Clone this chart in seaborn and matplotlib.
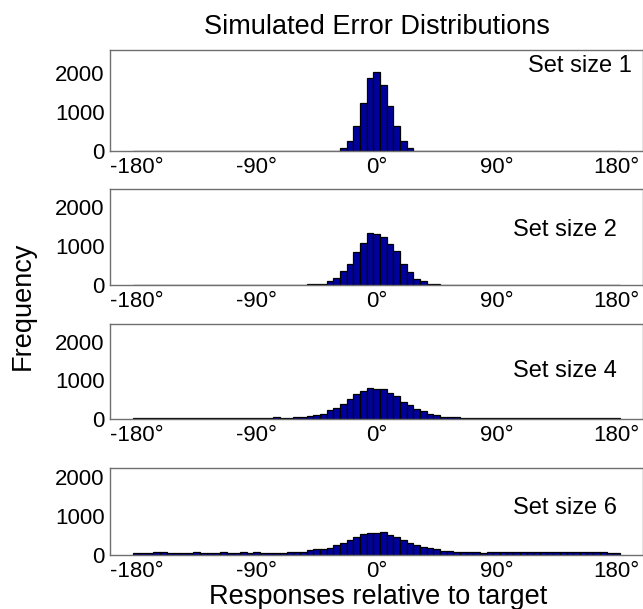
import numpy as np
import pandas as pd
import matplotlib
matplotlib.use("Agg")
import matplotlib.pyplot as plt
import seaborn as sns

# ---------------- data ----------------
centers = list(range(-180, 181, 5))          # 73 bin centres (degrees)
set_sizes = [1, 2, 4, 6]
tick_values = [-180, -90, 0, 90, 180]
tick_labels = ["-180°", "-90°", "0°", "90°", "180°"]
ytick_values = [0, 1000, 2000]
ytick_labels = ["0", "1000", "2000"]

counts_size1 = [0]*27 + [3, 4, 6, 12, 90, 245, 640, 1245, 1890, 2035, 1710, 1160,
                         640, 265, 90, 12, 4] + [0]*29

counts_size2 = ([8, 0, 6, 0, 10, 8, 0, 10, 6, 8, 10, 0, 8, 6, 10, 8, 0, 6, 10, 8, 0, 8, 6, 10, 12, 10, 14, 15]
                + [25, 90, 175, 360, 525, 835, 1080, 1325, 1300, 1235, 1050, 860,
                   525, 333, 160, 90, 25]
                + [14, 12, 10, 8, 10, 6, 0, 8, 10, 6, 0, 8, 10, 0, 6, 8, 10, 0, 8, 6, 0, 8, 10, 6, 0, 8, 6, 8])

counts_size4 = [20, 30, 25, 30, 35, 25, 30, 20, 25, 30, 28, 35, 25, 20, 30, 25, 35, 28, 22, 30, 17,
                43, 35, 17, 43, 43, 85, 100, 130, 220, 280, 385, 525, 636, 736, 810,
                785, 780, 662, 585, 438, 350, 255, 195, 130, 105, 60, 45, 45, 30, 30, 25,
                30, 28, 22, 30, 25, 35, 28, 20, 30, 25, 22, 30, 28, 35, 25, 20, 30, 28, 25, 30, 20]

counts_size6 = [43, 60, 60, 77, 77, 60, 60, 60, 60, 77, 60, 60, 60, 77, 60, 60, 77, 60, 77, 60, 43,
                60, 60, 77, 77, 86, 128, 162, 162, 180, 256, 316, 385, 453, 530, 556,
                556, 600, 515, 453, 385, 300, 256, 214, 171, 145, 111, 100, 86, 77, 77, 77,
                60, 77, 86, 86, 68, 68, 68, 86, 68, 86, 86, 68, 68, 68, 86, 86, 86, 86, 68, 60, 43]

all_counts = [counts_size1, counts_size2, counts_size4, counts_size6]
ymax = [2613, 2452, 2458, 2223]

# ---------------- style ----------------
sns.set_theme(style="white")
plt.rcParams['font.family'] = ['Liberation Sans', 'DejaVu Sans']

W, H = 643, 609
fig = plt.figure(figsize=(W/100, H/100), dpi=100)

left_px, right_px = 110, 643.3
panels_px = [(49.5, 151.0), (189.0, 285.0), (324.0, 419.0), (468.3, 555.0)]
label_px = [(528, 66), (513, 230), (513, 371), (513, 508)]

edges = [c - 2.5 for c in centers] + [centers[-1] + 2.5]
spine_col = "#6f6f6f"
bar_col = "#00009C"

for i, (top, bot) in enumerate(panels_px):
    ax = fig.add_axes([left_px/W, 1 - bot/H, (right_px-left_px)/W, (bot-top)/H])
    df = pd.DataFrame({"err": centers, "n": all_counts[i]})
    sns.histplot(data=df, x="err", weights="n", bins=edges, ax=ax,
                 color=bar_col, edgecolor="black", linewidth=0.9, alpha=1.0)
    ax.set_xlim(-200, 200)
    ax.set_ylim(0, ymax[i])
    ax.set_xticks(tick_values)
    ax.set_xticklabels(tick_labels)
    ax.set_yticks(ytick_values)
    ax.set_yticklabels(ytick_labels)
    ax.set_xlabel("")
    ax.set_ylabel("")
    for s in ax.spines.values():
        s.set_color(spine_col)
        s.set_linewidth(1.0)
        s.set_visible(True)
    ax.tick_params(axis="both", direction="in", length=3.5, width=0.8,
                   color=spine_col, labelsize=16, labelcolor="black")
    ax.tick_params(axis="y", pad=4)
    ax.tick_params(axis="x", pad=4)
    fig.text(label_px[i][0]/W, 1 - label_px[i][1]/H, f"Set size {set_sizes[i]}",
             ha="left", va="center", fontsize=17, color="black")

fig.text(377/W, 1 - 27/H, "Simulated Error Distributions", ha="center", va="center",
         fontsize=19.5, color="black")
fig.text(378/W, 1 - 597/H, "Responses relative to target", ha="center", va="center",
         fontsize=19.5, color="black")
fig.text(23/W, 1 - 306/H, "Frequency", ha="center", va="center", rotation=90,
         fontsize=19.5, color="black")

fig.savefig("out.png", dpi=100, facecolor="white")
